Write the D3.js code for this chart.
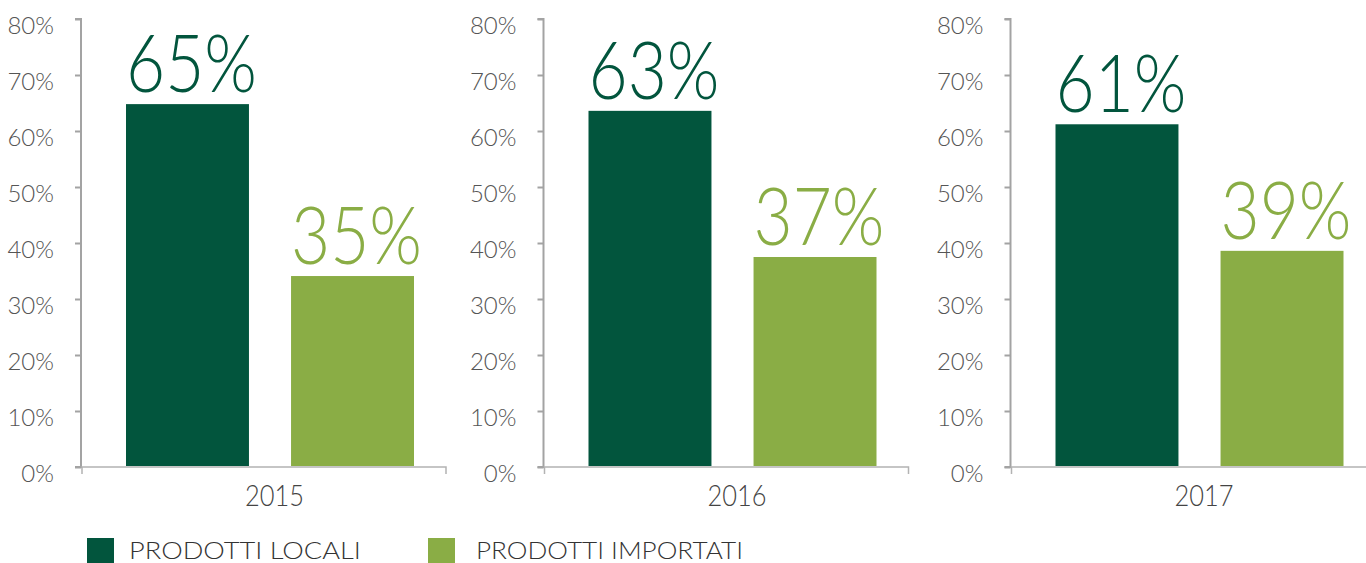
<!DOCTYPE html>
<html>
<head>
<meta charset="utf-8">
<script src="https://cdn.jsdelivr.net/npm/d3@7"></script>
<style>
  html, body { margin: 0; padding: 0; background: #fff; }
  svg { display: block; }
  text { font-family: Lato, "Open Sans", sans-serif; font-weight: 300; }
</style>
</head>
<body>
<svg id="chart" width="1366" height="563"></svg>
<script>
// ---- data ----
const years = ["2015", "2016", "2017"];
const seriesNames = ["PRODOTTI LOCALI", "PRODOTTI IMPORTATI"];
const localValues = [64.8, 63.6, 61.2];
const importedValues = [34.1, 37.5, 38.6];
const localLabels = ["65%", "63%", "61%"];
const importedLabels = ["35%", "37%", "39%"];
const yTicks = [0, 10, 20, 30, 40, 50, 60, 70, 80];
const colors = ["#02553d", "#8aad45"];

// ---- layout ----
const svg = d3.select("#chart");
const panelX = d3.scaleOrdinal().domain(years).range([81, 543.5, 1010.5]);
const y = d3.scaleLinear().domain([0, 80]).range([467, 19]);
const panelWidth = 365;

// place a text scaled horizontally to a target width (via transform, so its box stays true)
function fitText(sel, x, yPos, width, anchor) {
  sel.each(function () {
    const t = d3.select(this);
    const natural = this.getComputedTextLength();
    const sx = width / natural;
    let tx = x;
    if (anchor === "middle") tx = x - (natural * sx) / 2;
    t.attr("x", 0).attr("y", 0).attr("text-anchor", "start")
      .attr("transform", `translate(${tx},${yPos}) scale(${sx},1)`);
  });
}

years.forEach((yr, i) => {
  const x0 = panelX(yr);
  const g = svg.append("g");
  const xb = d3.scaleBand().domain(seriesNames).range([x0 + 45, x0 + 333]).paddingInner(0.255).paddingOuter(0);
  const vals = [localValues[i], importedValues[i]];
  const labs = [localLabels[i], importedLabels[i]];

  // bars
  g.selectAll("rect.bar").data(seriesNames).enter().append("rect")
    .attr("class", "bar")
    .attr("x", d => xb(d))
    .attr("width", xb.bandwidth())
    .attr("y", (d, j) => y(vals[j]))
    .attr("height", (d, j) => y(0) - 1 - y(vals[j]))
    .attr("fill", (d, j) => colors[j]);

  // value labels
  seriesNames.forEach((s, j) => {
    const t = g.append("text")
      .attr("class", "val")
      .attr("font-size", 80)
      .attr("fill", colors[j])
      .text(labs[j]);
    fitText(t, xb(s), y(vals[j]) - 12, 131, "start");
  });

  // y axis
  const yAxis = d3.axisLeft(y).tickValues(yTicks).tickSize(6).tickFormat(d => d + "%");
  const ya = g.append("g").attr("transform", `translate(${x0},0)`).call(yAxis);
  ya.select(".domain").attr("stroke", "#a3a3a3").attr("stroke-width", 2)
    .attr("d", `M-6,${y(80)}H0V${y(0)}H-6`);
  ya.selectAll(".tick line").attr("stroke", "#a3a3a3").attr("stroke-width", 2);
  ya.selectAll(".tick text")
    .attr("x", -27).attr("dy", 14)
    .attr("font-size", 24).attr("fill", "#555")
    .style("font-family", "Lato, sans-serif").style("font-weight", 300);

  // baseline
  const xa = d3.scaleLinear().domain([0, 1]).range([x0 + 1, x0 + panelWidth]);
  g.append("path")
    .attr("d", `M${xa(0)},${y(0) + 7}V${y(0)}H${xa(1)}V${y(0) + 7}`)
    .attr("fill", "none").attr("stroke", "#b3b3b3").attr("stroke-width", 1.5);

  // year label
  const yt = g.append("text")
    .attr("font-size", 30)
    .attr("fill", "#444")
    .text(yr);
  fitText(yt, x0 + 193.5, 506, 59, "middle");
});

// legend
const legendX = d3.scaleOrdinal().domain(seriesNames).range([87, 428]);
const legendLen = d3.scaleOrdinal().domain(seriesNames).range([232, 267]);
const lg = svg.append("g");
seriesNames.forEach((s, j) => {
  lg.append("rect").attr("x", legendX(s)).attr("y", 538).attr("width", 27).attr("height", 27).attr("fill", colors[j]);
  const t = lg.append("text")
    .attr("font-size", 24).attr("fill", "#333")
    .text(s);
  fitText(t, legendX(s) + 42 + (j ? 6 : 0), 559, legendLen(s), "start");
});
</script>
</body>
</html>
